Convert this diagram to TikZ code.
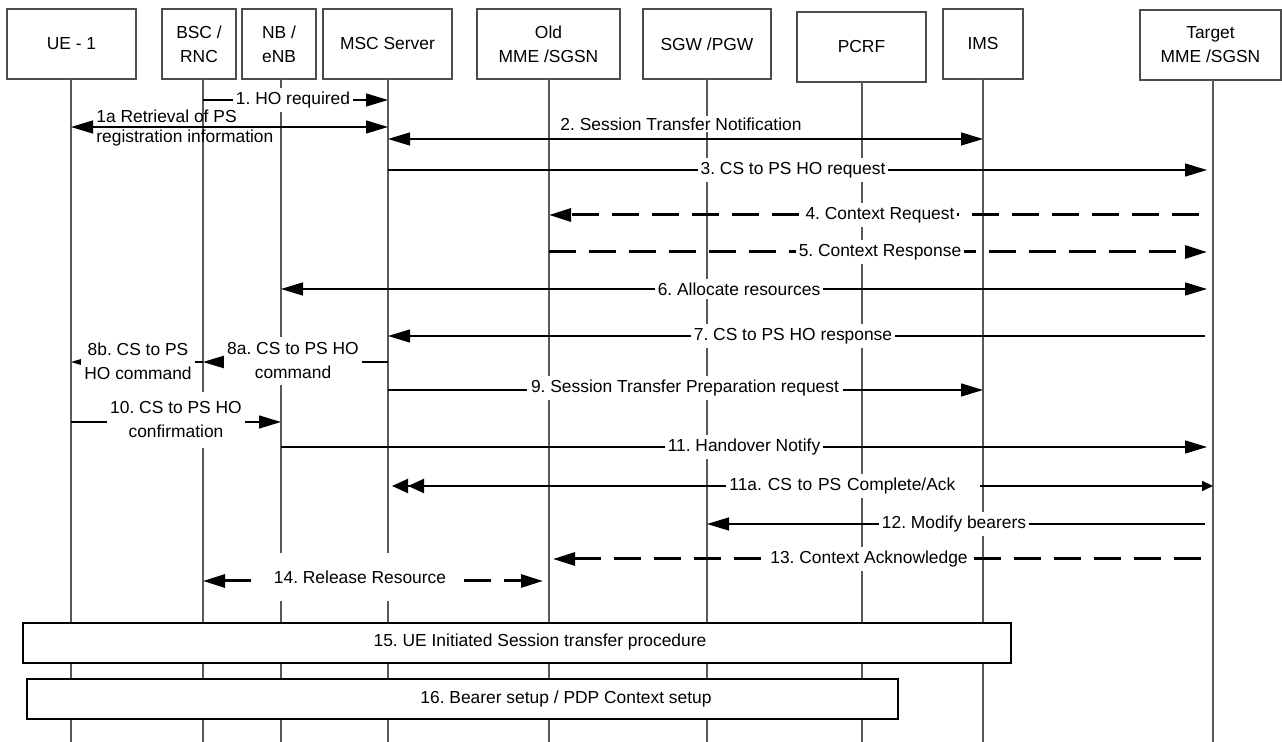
\documentclass[tikz,border=0pt]{standalone}
\usepackage{fontspec}
\setmainfont{Liberation Sans}
\usetikzlibrary{arrows.meta}
\frenchspacing

\begin{document}
\begin{tikzpicture}[x=0.5pt, y=-0.5pt,
    every node/.style={font=\fontsize{8.7}{12}\selectfont},
    hd/.tip={Triangle[length=11pt,width=6.5pt]},
    hdsmall/.tip={Triangle[length=5.5pt,width=5pt]},
    hddbl/.tip={Triangle[length=8pt,width=7pt]},
    hdr/.style={draw=black!70, line width=0.6pt, minimum height=35pt, inner sep=0pt, align=center},
    life/.style={draw=black!65, line width=0.6pt},
    msg/.style={line width=0.6pt},
    ctx/.style={line width=1.5pt, dash pattern=on 13.5pt off 6.5pt},
    lbl/.style={fill=white, inner xsep=1.5pt, inner ysep=2pt, align=center},
    phase/.style={draw, line width=0.75pt, fill=white, minimum height=20pt, inner sep=0pt}]
  \useasboundingbox (0,0) rectangle (1282,742);

  % entities
  \node[hdr, minimum width=64.5pt] (nUE) at (71.5,44) {UE - 1};
  \node[hdr, minimum width=37pt] (nBSC) at (199,44) {BSC /\\RNC};
  \node[hdr, minimum width=37pt] (nNB) at (279,44) {NB /\\eNB};
  \node[hdr, minimum width=64.5pt] (nMSC) at (387.5,44) {MSC Server};
  \node[hdr, minimum width=71.5pt] (nOld) at (548.5,44) {Old\\MME /SGSN};
  \node[hdr, minimum width=64pt] (nGW) at (707,44) {SGW /PGW};
  \node[hdr, minimum width=64.5pt] (nPCRF) at (861.5,47) {PCRF};
  \node[hdr, minimum width=40pt] (nIMS) at (983,44) {IMS};
  \node[hdr, minimum width=70.5pt] (nTgt) at (1210.5,45) {Target\\MME /SGSN};

  \coordinate (lUE) at (71,79);
  \coordinate (lBSC) at (203,79);
  \coordinate (lNB) at (281,79);
  \coordinate (lMSC) at (388,79);
  \coordinate (lOld) at (549,79);
  \coordinate (lGW) at (707,79);
  \coordinate (lPCRF) at (862,82);
  \coordinate (lIMS) at (983,79);
  \coordinate (lTgt) at (1213,80);

  % lifelines
  \draw[life] (lUE) -- (lUE |- 0,742);
  \draw[life] (lBSC) -- (lBSC |- 0,742);
  \draw[life] (lNB) -- (lNB |- 0,742);
  \draw[life] (lMSC) -- (lMSC |- 0,742);
  \draw[life] (lOld) -- (lOld |- 0,742);
  \draw[life] (lGW) -- (lGW |- 0,742);
  \draw[life] (lPCRF) -- (lPCRF |- 0,742);
  \draw[life] (lIMS) -- (lIMS |- 0,742);
  \draw[life] (lTgt) -- (lTgt |- 0,742);

  % messages
  \draw[msg, -{hd}] (lBSC |- 0,100) -- (lMSC |- 0,100);
  \node[lbl] (t1) at (293,100) {1. HO required};

  \draw[msg, {hd}-{hd}] (lUE |- 0,127) -- (lMSC |- 0,127);
  \node[align=left, anchor=west, inner sep=0pt] (t1a) at (96,128) {1a Retrieval of PS\\[-2pt]registration information};

  \draw[msg, {hd}-{hd}] (lMSC |- 0,139) -- (lIMS |- 0,139);
  \node[lbl, inner ysep=1pt] (t2) at (681,124) {2. Session Transfer Notification};

  \draw[msg, -{hd}, shorten >=3pt] (lMSC |- 0,170) -- (lTgt |- 0,170);
  \node[lbl] (t3) at (793,170) {3. CS to PS HO request};

  \draw[ctx, -{hd}, shorten <=7pt] (lTgt |- 0,215) -- (lOld |- 0,215);
  \node[lbl] (t4) at (880,215) {4. Context Request};

  \draw[ctx, -{hd}, shorten >=3pt] (lOld |- 0,252) -- (lTgt |- 0,252);
  \node[lbl] (t5) at (880,252) {5. Context Response};

  \draw[msg, {hd}-{hd}, shorten >=3pt] (lNB |- 0,289) -- (lTgt |- 0,289);
  \node[lbl] (t6) at (739,289) {6. Allocate resources};

  \draw[msg, -{hd}, shorten <=4pt] (lTgt |- 0,336) -- (lMSC |- 0,336);
  \node[lbl] (t7) at (793,336) {7. CS to PS HO response};

  \draw[msg, -{hd}] (lMSC |- 0,362) -- (lBSC |- 0,362);
  \node[lbl, minimum width=69pt, minimum height=24pt] (t8a) at (293,361) {8a. CS to PS HO\\command};

  \draw[msg, -{hd}] (lBSC |- 0,362) -- (lUE |- 0,362);
  \node[lbl, minimum width=56pt, minimum height=24pt] (t8b) at (138,361) {8b. CS to PS\\HO command};

  \draw[msg, -{hd}] (lMSC |- 0,390) -- (lIMS |- 0,390);
  \node[lbl, minimum width=158pt] (t9) at (685,388) {9. Session Transfer Preparation request};

  \draw[msg, -{hd}] (lUE |- 0,422) -- (lNB |- 0,422);
  \node[lbl, minimum width=68pt, minimum height=28pt] (t10) at (176,420) {10. CS to PS HO\\confirmation};

  \draw[msg, -{hd}, shorten >=3pt] (lNB |- 0,447) -- (lTgt |- 0,447);
  \node[lbl] (t11) at (744,447) {11. Handover Notify};

  \draw[line width=1pt, {hddbl[]hddbl}-{hdsmall}, shorten <=2pt] (lMSC |- 0,486) -- (lTgt |- 0,486);
  \node[lbl, anchor=west, text width=124pt, align=left] (t11a) at (726,486) {11a. CS to PS Complete/Ack};

  \draw[msg, -{hd}, shorten <=4pt] (lTgt |- 0,524) -- (lGW |- 0,524);
  \node[lbl] (t12) at (954,524) {12. Modify bearers};

  \draw[ctx, -{hd}, shorten <=6pt, shorten >=2pt] (lTgt |- 0,559) -- (lOld |- 0,559);
  \node[lbl] (t13) at (869,559) {13. Context Acknowledge};

  \draw[ctx, {hd}-{hd}, shorten >=3pt] (lBSC |- 0,581) -- (lOld |- 0,581);
  \node[lbl, minimum width=98pt, minimum height=24pt] (t14) at (360,577) {14. Release Resource};

  % procedures
  \node[phase, minimum width=494pt] (p15) at (517,643) {};
  \node (t15) at (540,642) {15. UE Initiated Session transfer procedure};
  \node[phase, minimum width=435.5pt] (p16) at (462.5,699) {};
  \node (t16) at (566,699) {16. Bearer setup / PDP Context setup};
\end{tikzpicture}
\end{document}
